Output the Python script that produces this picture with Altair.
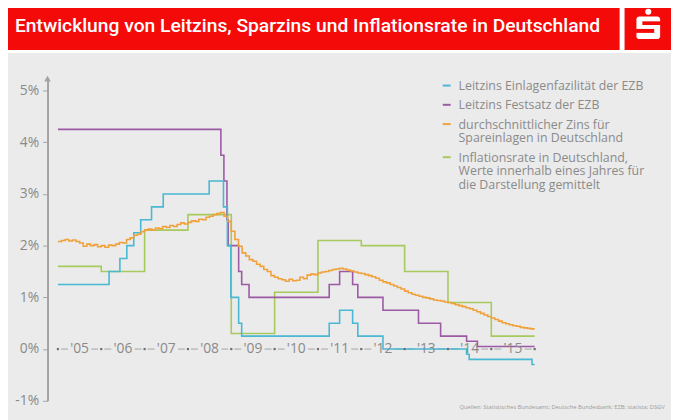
import altair as alt
import pandas as pd

# ---------------- data ----------------
year_starts = list(range(2005, 2017))
year_labels = ["'05", "'06", "'07", "'08", "'09", "'10", "'11", "'12", "'13", "'14", "'15"]
y_ticks = [-1, 0, 1, 2, 3, 4, 5]

legend_lines = [
    ["Leitzins Einlagenfazilität der EZB"],
    ["Leitzins Festsatz der EZB"],
    ["durchschnittlicher Zins für", "Spareinlagen in Deutschland"],
    ["Inflationsrate in Deutschland,", "Werte innerhalb eines Jahres für", "die Darstellung gemittelt"],
]
series_colors = ["#48b8d3", "#9c5aa5", "#f0a13a", "#a6ca5c"]

deposit_t = [2005.0, 2006.18, 2006.43, 2006.59, 2006.75, 2006.91, 2007.16, 2007.43, 2008.49,
             2008.82, 2008.91, 2008.99, 2009.17, 2009.24, 2011.26, 2011.50, 2011.80, 2011.92,
             2012.50, 2014.43, 2014.49, 2015.94, 2016.0]
deposit_v = [1.25, 1.50, 1.75, 2.00, 2.25, 2.50, 2.75, 3.00, 3.25,
             2.75, 2.00, 1.00, 0.50, 0.25, 0.50, 0.75, 0.50, 0.25,
             0.00, -0.10, -0.20, -0.30, -0.30]

refi_t = [2005.0, 2008.76, 2008.83, 2008.90, 2008.93, 2009.17, 2009.24, 2009.41, 2011.26,
          2011.50, 2011.80, 2011.92, 2012.50, 2013.32, 2013.83, 2014.43, 2014.68, 2016.0]
refi_v = [4.25, 3.75, 3.25, 2.50, 2.00, 1.50, 1.25, 1.00, 1.25,
          1.50, 1.25, 1.00, 0.75, 0.50, 0.25, 0.15, 0.05, 0.05]

inflation_t = [2005.0, 2006.0, 2007.0, 2008.0, 2009.0, 2010.0, 2011.0, 2012.0, 2013.0, 2014.0, 2015.0, 2016.0]
inflation_v = [1.6, 1.5, 2.3, 2.6, 0.3, 1.1, 2.1, 2.0, 1.5, 0.9, 0.25, 0.25]

# monthly average savings deposit rate, Jan 2005 .. Dec 2015
savings_2005 = [2.08, 2.10, 2.12, 2.09, 2.11, 2.08, 2.05, 1.99, 2.03, 2.00, 2.02, 1.98]
savings_2006 = [2.00, 1.97, 2.01, 2.00, 2.03, 2.06, 2.05, 2.12, 2.15, 2.20, 2.22, 2.27]
savings_2007 = [2.30, 2.32, 2.30, 2.34, 2.33, 2.37, 2.35, 2.39, 2.37, 2.41, 2.44, 2.42]
savings_2008 = [2.45, 2.48, 2.47, 2.51, 2.50, 2.55, 2.57, 2.60, 2.62, 2.64, 2.57, 2.47]
savings_2009 = [2.28, 2.12, 1.99, 1.86, 1.80, 1.73, 1.70, 1.64, 1.60, 1.54, 1.50, 1.42]
savings_2010 = [1.39, 1.36, 1.34, 1.31, 1.35, 1.32, 1.33, 1.39, 1.36, 1.43, 1.45, 1.44]
savings_2011 = [1.47, 1.49, 1.50, 1.52, 1.54, 1.55, 1.56, 1.55, 1.53, 1.51, 1.49, 1.47]
savings_2012 = [1.46, 1.44, 1.42, 1.40, 1.37, 1.33, 1.30, 1.28, 1.25, 1.22, 1.19, 1.16]
savings_2013 = [1.12, 1.09, 1.06, 1.04, 1.02, 1.00, 0.99, 0.97, 0.95, 0.94, 0.93, 0.91]
savings_2014 = [0.90, 0.88, 0.86, 0.84, 0.82, 0.80, 0.78, 0.75, 0.72, 0.69, 0.66, 0.63]
savings_2015 = [0.60, 0.57, 0.54, 0.51, 0.49, 0.47, 0.45, 0.44, 0.42, 0.41, 0.40, 0.39]

title_text = "Entwicklung von Leitzins, Sparzins und Inflationsrate in Deutschland"
source_text = "Quellen: Statistisches Bundesamt; Deutsche Bundesbank; EZB; statista; DSGV"

# ---------------- build tables ----------------
savings_v = (savings_2005 + savings_2006 + savings_2007 + savings_2008 + savings_2009 + savings_2010
             + savings_2011 + savings_2012 + savings_2013 + savings_2014 + savings_2015)
savings_t = [2005 + i / 12 for i in range(len(savings_v))] + [2016.0]
savings_v = savings_v + [savings_v[-1]]

df_dep = pd.DataFrame({"t": deposit_t, "v": deposit_v})
df_refi = pd.DataFrame({"t": refi_t, "v": refi_v})
df_sav = pd.DataFrame({"t": savings_t, "v": savings_v})
df_inf = pd.DataFrame({"t": inflation_t, "v": inflation_v})

GRAY_TXT = "#8a8a8a"
AXIS_GRAY = "#a3a3a3"
BG = "#ebebeb"
RED = "#f50a0a"
FONT = "Open Sans"

xscale = alt.Scale(domain=[2004.76, 2016.0], nice=False, zero=False)
yscale = alt.Scale(domain=[-1, 5.25], nice=False, zero=False)

yaxis = alt.Axis(values=y_ticks, labelExpr="datum.value + '%'", title=None, grid=False,
                 domainColor=AXIS_GRAY, domainWidth=2, tickColor=AXIS_GRAY, tickSize=5,
                 tickWidth=1, labelColor=GRAY_TXT, labelFontSize=14, labelFont=FONT,
                 labelPadding=4)

one = pd.DataFrame({"a": [0]})


def step_line(df, color):
    return alt.Chart(df).mark_line(interpolate="step-after", color=color, strokeWidth=1.6).encode(
        x=alt.X("t:Q", scale=xscale, axis=None),
        y=alt.Y("v:Q", scale=yscale, axis=yaxis),
    )


lines = [
    step_line(df_inf, series_colors[3]),
    step_line(df_refi, series_colors[1]),
    step_line(df_dep, series_colors[0]),
    step_line(df_sav, series_colors[2]),
]

# x axis drawn on the 0 % line: segments between labels, dots at year boundaries
seg_rows = []
for y in year_starts[:-1]:
    seg_rows.append({"xs": y + 0.07, "xe": y + 0.23})
    seg_rows.append({"xs": y + 0.77, "xe": y + 0.93})
df_seg = pd.DataFrame(seg_rows)
df_dots = pd.DataFrame({"t": year_starts})
df_lab = pd.DataFrame({"t": [y + 0.5 for y in year_starts[:-1]], "lab": year_labels})

segs = alt.Chart(df_seg).mark_rule(color=AXIS_GRAY, strokeWidth=1).encode(
    x=alt.X("xs:Q", scale=xscale, axis=None), x2="xe:Q", y=alt.datum(0))
dots = alt.Chart(df_dots).mark_square(color="#6e6e6e", size=5, opacity=1).encode(
    x=alt.X("t:Q", scale=xscale, axis=None), y=alt.datum(0))
xlabels = alt.Chart(df_lab).mark_text(font=FONT, fontSize=14, color=GRAY_TXT, baseline="middle",
                                      align="center").encode(
    x=alt.X("t:Q", scale=xscale, axis=None), y=alt.datum(0), text="lab:N")

arrow = alt.Chart(one).mark_point(shape="triangle-up", filled=True, color=AXIS_GRAY, size=45,
                                  opacity=1).encode(x=alt.value(0), y=alt.value(1))

# header
hdr = [
    alt.Chart(one).mark_rect(color="white").encode(
        x=alt.value(-48), x2=alt.value(640), y=alt.value(-80), y2=alt.value(-25)),
    alt.Chart(one).mark_rect(color=RED).encode(
        x=alt.value(-48), x2=alt.value(579), y=alt.value(-80), y2=alt.value(-28)),
    alt.Chart(one).mark_rect(color=RED).encode(
        x=alt.value(584), x2=alt.value(640), y=alt.value(-80), y2=alt.value(-28)),
    alt.Chart(one).mark_circle(color="white", size=38, opacity=1).encode(
        x=alt.value(608), y=alt.value(-66.7)),
    alt.Chart(one).mark_rect(color="white", cornerRadius=3).encode(
        x=alt.value(596), x2=alt.value(620), y=alt.value(-62), y2=alt.value(-39)),
    alt.Chart(one).mark_rect(color=RED).encode(
        x=alt.value(602), x2=alt.value(622), y=alt.value(-57), y2=alt.value(-53.3)),
    alt.Chart(one).mark_rect(color=RED).encode(
        x=alt.value(594), x2=alt.value(614), y=alt.value(-49.3), y2=alt.value(-45.3)),
    alt.Chart(one).mark_text(text=title_text, color="white", font="Roboto", fontSize=19.5,
                             fontWeight=500, align="left", baseline="middle").encode(
        x=alt.value(-33), y=alt.value(-52)),
]

# legend (multi-line labels as one text mark each)
leg = []
ly = 8.0
LH = 14
for i, lines_txt in enumerate(legend_lines):
    leg.append(alt.Chart(one).mark_rule(color=series_colors[i], strokeWidth=2).encode(
        x=alt.value(400), x2=alt.value(408), y=alt.value(ly)))
    leg.append(alt.Chart(one).mark_text(text=lines_txt, color=GRAY_TXT, font=FONT, fontSize=12.5,
                                        lineHeight=LH, align="left", baseline="alphabetic").encode(
        x=alt.value(416), y=alt.value(ly + 4.5)))
    ly += (len(lines_txt) - 1) * LH + 19.5

source = alt.Chart(one).mark_text(text=source_text, color="#9a9a9a", font=FONT, fontSize=5.8,
                                  align="left", baseline="middle").encode(
    x=alt.value(417), y=alt.value(333))

chart = alt.layer(*hdr, arrow, segs, *lines, dots, xlabels, *leg, source).properties(
    width=493, height=327,
    autosize=alt.AutoSizeParams(type="none"),
    padding={"left": 40, "top": 68, "right": 138, "bottom": 17},
    background=BG,
).configure_view(stroke=None)

chart.save("out.html", embed_options={"renderer": "svg", "actions": False})
